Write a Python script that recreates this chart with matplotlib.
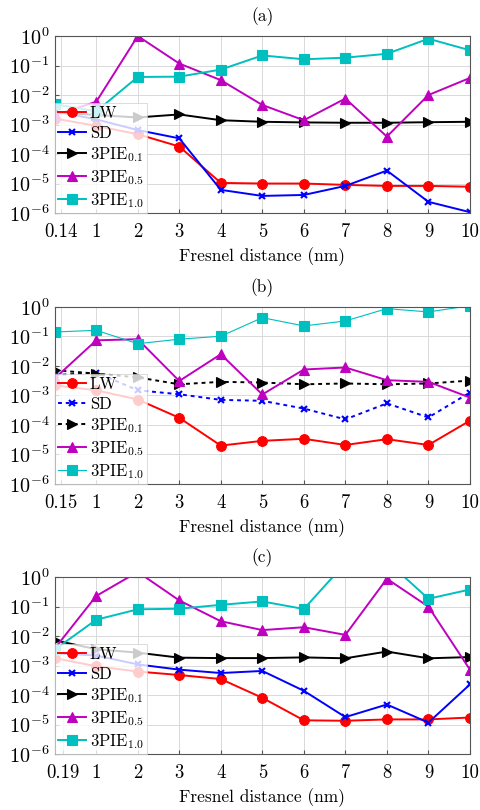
import numpy as np
import matplotlib
matplotlib.use("Agg")
import matplotlib.pyplot as plt

plt.rcParams['font.family'] = ['cmr10', 'Liberation Serif', 'DejaVu Serif']
plt.rcParams['mathtext.fontset'] = 'cm'
plt.rcParams['axes.formatter.use_mathtext'] = True
plt.rcParams['font.size'] = 12

# x positions of the samples (first one drawn at the axis origin)
dist = [0, 1, 2, 3, 4, 5, 6, 7, 8, 9, 10]
first_tick = {'a': 0.14, 'b': 0.15, 'c': 0.19}

# ---- panel (a)
lw_a = [1.6e-3, 9e-4, 4.7e-4, 1.8e-4, 1.05e-5, 1e-5, 1e-5, 9e-6, 8.3e-6, 8.3e-6, 7.8e-6]
sd_a = [2.8e-3, 1.5e-3, 6.5e-4, 3.4e-4, 6.1e-6, 3.8e-6, 4.1e-6, 8.3e-6, 2.75e-5, 2.4e-6, 1.07e-6]
p01_a = [2.6e-3, 2.1e-3, 1.74e-3, 2.2e-3, 1.4e-3, 1.24e-3, 1.18e-3, 1.15e-3, 1.15e-3, 1.2e-3, 1.24e-3]
p05_a = [2.1e-3, 5.9e-3, 1.0, 0.117, 0.032, 4.6e-3, 1.4e-3, 7.6e-3, 3.9e-4, 1e-2, 0.038]
p10_a = [4.9e-3, 2.8e-3, 0.041, 0.042, 0.073, 0.22, 0.163, 0.185, 0.25, 0.81, 0.33]

# ---- panel (b)
lw_b = [2.2e-3, 1.5e-3, 7.3e-4, 1.75e-4, 2e-5, 2.9e-5, 3.4e-5, 2.1e-5, 3.3e-5, 2.1e-5, 1.4e-4]
sd_b = [4.9e-3, 6e-3, 1.5e-3, 1.1e-3, 7.1e-4, 6.6e-4, 3.6e-4, 1.55e-4, 5.4e-4, 1.8e-4, 1.26e-3]
p01_b = [7.2e-3, 5.5e-3, 4.1e-3, 2.4e-3, 2.9e-3, 2.75e-3, 2.4e-3, 2.55e-3, 2.4e-3, 2.55e-3, 3.2e-3]
p05_b = [3.8e-3, 0.074, 0.081, 3.1e-3, 0.025, 1.08e-3, 7.6e-3, 8.9e-3, 3.3e-3, 2.9e-3, 8.5e-4]
p10_b = [0.142, 0.162, 0.057, 0.081, 0.102, 0.435, 0.228, 0.336, 0.88, 0.68, 1.1]

# ---- panel (c)
lw_c = [1.8e-3, 9.5e-4, 6.3e-4, 4.8e-4, 3.5e-4, 8.1e-5, 1.4e-5, 1.35e-5, 1.5e-5, 1.5e-5, 1.74e-5]
sd_c = [2.6e-3, 2.2e-3, 1.1e-3, 7.3e-4, 5.6e-4, 6.6e-4, 1.4e-4, 1.8e-5, 4.8e-5, 1.17e-5, 2.3e-4]
p01_c = [7.2e-3, 3.6e-3, 2.75e-3, 1.86e-3, 1.8e-3, 1.8e-3, 1.9e-3, 1.77e-3, 3e-3, 1.77e-3, 1.95e-3]
p05_c = [3.8e-3, 0.23, 1.5, 0.162, 0.032, 0.016, 0.02, 0.011, 0.88, 0.10, 7.3e-4]
p10_c = [3.5e-3, 0.036, 0.081, 0.085, 0.115, 0.15, 0.083, 3.0, 3.5, 0.185, 0.38]

labels = ['LW', 'SD', r'3PIE$_{0.1}$', r'3PIE$_{0.5}$', r'3PIE$_{1.0}$']
colors = ['#ff0000', '#0000ff', '#000000', '#bf00bf', '#00bfbf']
markers = ['o', 'x', '>', '^', 's']
msizes = [7, 5, 7, 7, 7]

panels = [
    ('a', [lw_a, sd_a, p01_a, p05_a, p10_a], ['-'] * 5, [1.4] * 5),
    ('b', [lw_b, sd_b, p01_b, p05_b, p10_b],
     ['-', (0, (2, 2)), (0, (2, 2)), '-', '-'], [1.4, 1.4, 1.4, 1.4, 0.8]),
    ('c', [lw_c, sd_c, p01_c, p05_c, p10_c], ['-'] * 5, [1.4] * 5),
]

fig = plt.figure(figsize=(4.8, 8.1), dpi=100)
bottoms = [0.737, 0.4025, 0.069]

for (tag, series, styles, widths), b in zip(panels, bottoms):
    ax = fig.add_axes([0.114, b, 0.865, 0.2185])
    for ys, lab, c, m, ms, ls, w in zip(series, labels, colors, markers, msizes, styles, widths):
        ax.plot(dist, ys, color=c, marker=m, markersize=ms, linestyle=ls, linewidth=w,
                markeredgewidth=1.5 if m == 'x' else 0.8, label=lab)
    ax.set_yscale('log')
    ax.set_ylim(1e-6, 1e0)
    ax.set_xlim(0, 10)
    ax.set_yticks([1e-6, 1e-5, 1e-4, 1e-3, 1e-2, 1e-1, 1e0])
    ax.yaxis.set_minor_locator(matplotlib.ticker.NullLocator())
    xt = [first_tick[tag]] + list(range(1, 11))
    ax.set_xticks(xt)
    ax.set_xticklabels([f'{first_tick[tag]:g}'] + [str(i) for i in range(1, 11)])
    ax.grid(True, color='#d9d9d9', linewidth=0.7)
    ax.set_axisbelow(True)
    for s in ax.spines.values():
        s.set_color('#555555')
        s.set_linewidth(0.8)
    ax.tick_params(direction='in', length=3, color='#555555')
    ax.tick_params(axis='x', labelsize=13.5, pad=7)
    ax.tick_params(axis='y', labelsize=14.5, pad=4)
    ax.set_xlabel('Fresnel distance (nm)', fontsize=12.5, labelpad=5)
    ax.set_title(f'({tag})', fontsize=12.5, pad=11)
    leg = ax.legend(loc='lower left', bbox_to_anchor=(0, 0), borderaxespad=0,
                    fontsize=12, handlelength=1.65, handletextpad=0.25,
                    labelspacing=0.25, borderpad=0.2, fancybox=False,
                    framealpha=0.8, edgecolor='#cccccc')
    leg.get_frame().set_linewidth(0.6)

fig.savefig('out.png', dpi=100)
